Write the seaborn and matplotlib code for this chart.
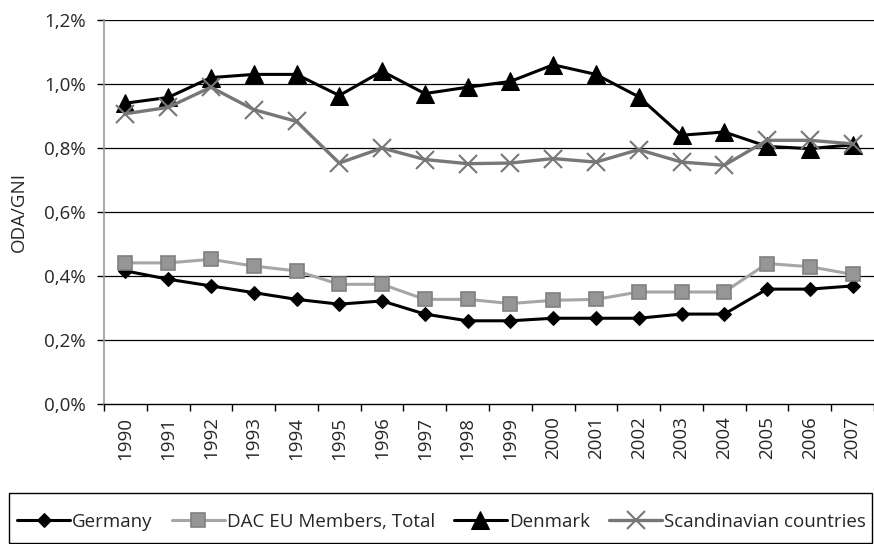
import numpy as np
import matplotlib
matplotlib.use('Agg')
import matplotlib.pyplot as plt
import seaborn as sns
from matplotlib.patches import Rectangle
from matplotlib.ticker import FuncFormatter

years = ['1990', '1991', '1992', '1993', '1994', '1995', '1996', '1997', '1998',
         '1999', '2000', '2001', '2002', '2003', '2004', '2005', '2006', '2007']

# ODA/GNI in percent
germany = [0.416, 0.39, 0.369, 0.348, 0.327, 0.312, 0.322, 0.281, 0.26,
           0.26, 0.268, 0.268, 0.268, 0.281, 0.281, 0.359, 0.359, 0.369]
dac_eu = [0.441, 0.441, 0.452, 0.431, 0.416, 0.374, 0.374, 0.327, 0.327,
          0.314, 0.324, 0.327, 0.35, 0.35, 0.35, 0.439, 0.429, 0.405]
denmark = [0.94, 0.958, 1.02, 1.03, 1.03, 0.964, 1.04, 0.97, 0.99,
           1.008, 1.06, 1.03, 0.96, 0.84, 0.85, 0.805, 0.798, 0.81]
scandinavia = [0.907, 0.927, 0.99, 0.92, 0.883, 0.753, 0.80, 0.764, 0.751,
               0.753, 0.767, 0.756, 0.795, 0.756, 0.746, 0.824, 0.824, 0.813]

y_ticks = [0.0, 0.2, 0.4, 0.6, 0.8, 1.0, 1.2]

sns.set_style('white')
plt.rcParams['font.family'] = ['Open Sans', 'DejaVu Sans']
plt.rcParams['font.size'] = 13

fig = plt.figure(figsize=(8.74, 5.44), dpi=100)
ax = fig.add_axes([104 / 874, 1 - 404 / 544, 770 / 874, 384 / 544])

# gridlines first so the lines sit on top
for t in y_ticks[1:]:
    ax.axhline(t, color='black', lw=0.9, zorder=0)

sns.lineplot(x=years, y=germany, ax=ax, sort=False, color='black', lw=2.2,
             marker='D', markersize=7.5, markeredgecolor='black',
             markerfacecolor='black', label='Germany')
sns.lineplot(x=years, y=dac_eu, ax=ax, sort=False, color='#a6a6a6', lw=2.2,
             marker='s', markersize=10, markeredgecolor='#808080',
             markeredgewidth=1.2, markerfacecolor='#969696',
             label='DAC EU Members, Total')
sns.lineplot(x=years, y=denmark, ax=ax, sort=False, color='black', lw=2.2,
             marker='^', markersize=13, markeredgecolor='black',
             markerfacecolor='black', label='Denmark')
sns.lineplot(x=years, y=scandinavia, ax=ax, sort=False, color='#777777', lw=2.4,
             marker='x', markersize=13, markeredgecolor='#777777',
             markeredgewidth=1.5, label='Scandinavian countries')

ax.set_xlim(-0.5, len(years) - 0.5)
ax.set_ylim(0, 1.2)
ax.set_yticks(y_ticks)
ax.yaxis.set_major_formatter(FuncFormatter(lambda v, p: f'{v:.1f}%'.replace('.', ',')))
ax.set_xticks(range(len(years)))
ax.set_xticklabels(years, rotation=90)
ax.set_xticks(np.arange(-0.5, len(years), 1), minor=True)
ax.tick_params(axis='x', which='major', length=0, pad=9, labelsize=13.5)
ax.tick_params(axis='x', which='minor', length=5, width=1, color='black', direction='out', bottom=True)
ax.tick_params(axis='y', length=5, width=1, color='black', direction='out', left=True,
               pad=8, labelsize=13.5)

ax.set_ylabel('ODA/GNI', fontsize=13.5, labelpad=12)
ax.set_xlabel('')

for s in ['top', 'right']:
    ax.spines[s].set_visible(False)
ax.spines['left'].set_color('#9a9a9a')
ax.spines['left'].set_linewidth(1.2)
ax.spines['bottom'].set_color('black')
ax.spines['bottom'].set_linewidth(1.0)

handles, labels = ax.get_legend_handles_labels()
ax.get_legend().remove()
fig.legend(handles, labels, loc='center left', bbox_to_anchor=(17 / 874, 1 - 522 / 544),
           ncol=4, frameon=False, borderpad=0, borderaxespad=0, handlelength=2.85,
           handletextpad=0.1, columnspacing=1.0, fontsize=13.5)
fig.patches.append(Rectangle((9 / 874, 1 / 544), 863 / 874, 50 / 544,
                             transform=fig.transFigure, fill=False,
                             edgecolor='black', lw=1.0))

fig.savefig('out.png', dpi=100)
